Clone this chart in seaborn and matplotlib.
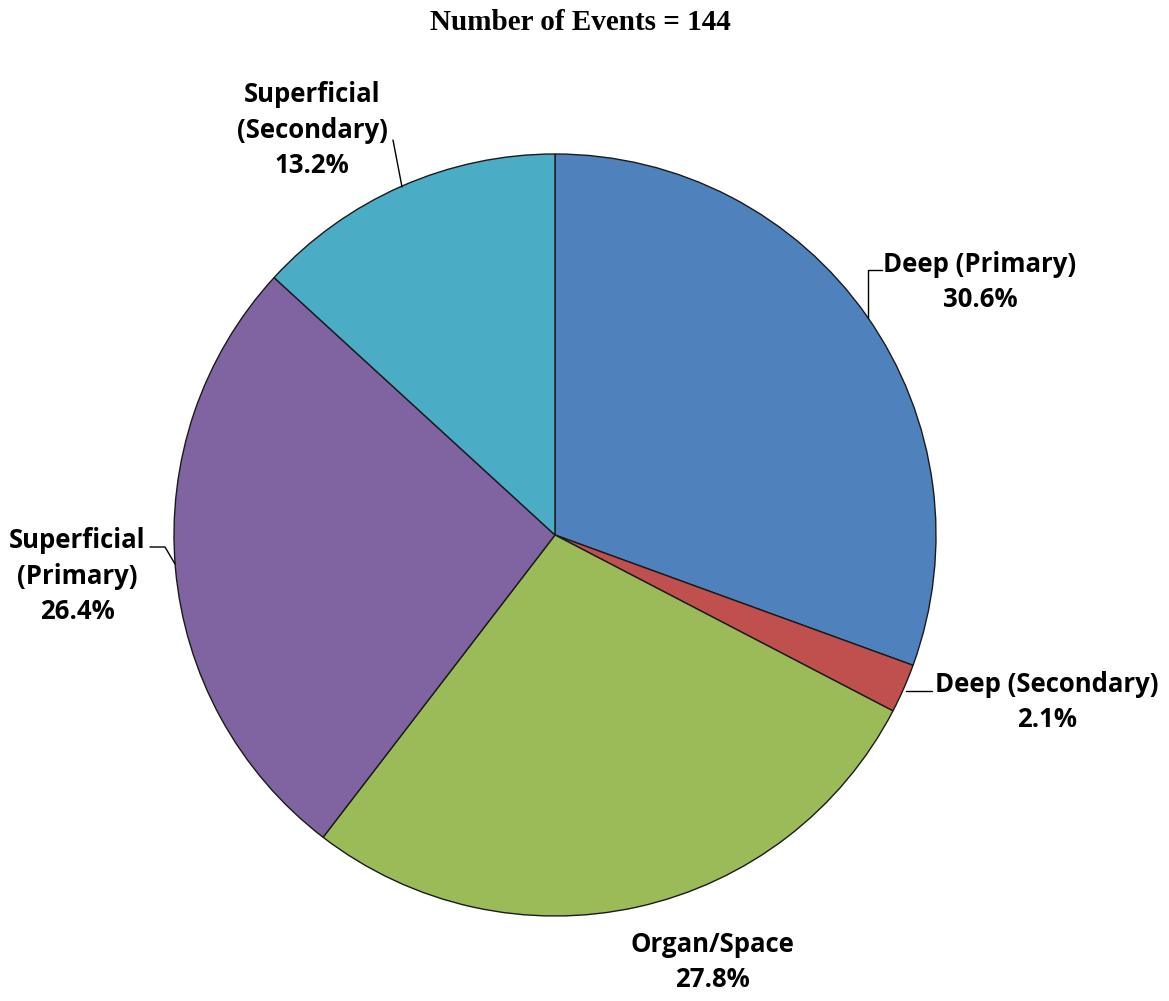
import matplotlib
matplotlib.use("Agg")
import matplotlib.pyplot as plt
import seaborn as sns

sns.set_style("white")

categories = ["Deep (Primary)", "Deep (Secondary)", "Organ/Space",
              "Superficial (Primary)", "Superficial (Secondary)"]
events = [44, 3, 40, 38, 19]
pct_labels = ["30.6%", "2.1%", "27.8%", "26.4%", "13.2%"]
label_text = ["Deep (Primary)", "Deep (Secondary)", "Organ/Space",
              "Superficial\n(Primary)", "Superficial\n(Secondary)"]
colors = ["#4F81BD", "#C0504D", "#9BBB59", "#8064A2", "#4BACC6"]

W, H = 1169, 1001
cx, cy, R = 555, 535, 381

fig = plt.figure(figsize=(W / 100, H / 100), dpi=100)
ax = fig.add_axes([(cx - R) / W, (H - cy - R) / H, 2 * R / W, 2 * R / H])
ax.pie(events, colors=colors, startangle=90, counterclock=False, radius=1,
       wedgeprops=dict(edgecolor="#1a1a1a", linewidth=1.0))
ax.set_xlim(-1, 1)
ax.set_ylim(-1, 1)
ax.set_aspect("equal")
ax.axis("off")


def d(px, py):
    # pixel position -> data coords of the pie axes
    return (px - cx) / R, (cy - py) / R


label_pos = [(980, 282), (1047, 702), (712, 962), (77, 576), (312, 130)]
font = dict(family=["Open Sans", "DejaVu Sans"], fontsize=18.5, fontweight="bold",
            color="black", ha="center", va="center", linespacing=1.4)
for txt, pct, (px, py) in zip(label_text, pct_labels, label_pos):
    x, y = d(px, py)
    ax.text(x, y, txt + "\n" + pct, clip_on=False, **font)

# leader lines
leaders = [
    [(882, 270), (868, 270), (868, 318)],
    [(932, 691), (906, 691)],
    [(150, 547), (165, 547), (175, 564)],
    [(393, 140), (402, 187)],
]
for pts in leaders:
    xs, ys = zip(*[d(px, py) for px, py in pts])
    ax.plot(xs, ys, color="black", linewidth=1.0, clip_on=False)

fig.text(580 / W, 1 - 23 / H, "Number of Events = 144", ha="center", va="center",
         fontsize=21, fontweight="bold", color="black",
         family=["Liberation Serif", "DejaVu Serif"])

fig.savefig("out.png", dpi=100)
